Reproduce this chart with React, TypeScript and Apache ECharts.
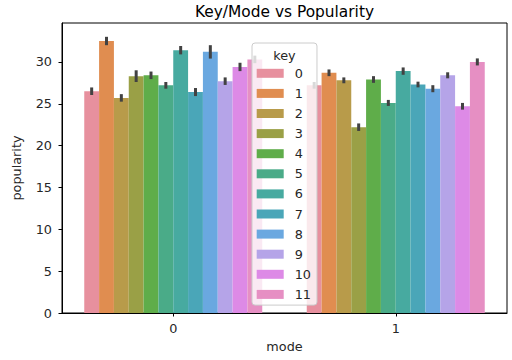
import React, { useEffect, useRef } from "react";
import * as echarts from "echarts";

const modes = ["0", "1"];
const keys = ["0", "1", "2", "3", "4", "5", "6", "7", "8", "9", "10", "11"];
const mode0Pop = [26.5, 32.5, 25.7, 28.3, 28.4, 27.2, 31.4, 26.4, 31.2, 27.7, 29.4, 30.3];
const mode1Pop = [27.2, 28.7, 27.8, 22.2, 27.9, 25.1, 28.9, 27.3, 26.8, 28.4, 24.7, 30.0];
const mode0Err = [0.45, 0.5, 0.45, 0.7, 0.45, 0.4, 0.5, 0.48, 0.8, 0.45, 0.5, 0.45];
const mode1Err = [0.4, 0.4, 0.35, 0.45, 0.4, 0.36, 0.44, 0.34, 0.42, 0.36, 0.4, 0.42];
const keyColors = [
  "#e7909e", "#e08d50", "#b89b4a", "#9aa046", "#5fad4a", "#4aab88",
  "#47aaa0", "#4aa6b8", "#6aa8e0", "#b5a4e8", "#dd8ae6", "#e68fc3",
];
const yTicks = [0, 5, 10, 15, 20, 25, 30];

const FONT = "DejaVu Sans";
const TXT = "#262626";

export default function App() {
  const ref = useRef<HTMLDivElement>(null);
  useEffect(() => {
    if (!ref.current) return;
    const chart = echarts.init(ref.current, null, { renderer: "svg" });
    const barSeries = keys.map((k, i) => ({
      name: k,
      type: "bar",
      data: [mode0Pop[i], mode1Pop[i]],
      itemStyle: { color: keyColors[i] },
      barGap: "0%",
      barCategoryGap: "20%",
    }));
    const errData: number[][] = [];
    keys.forEach((_, i) => {
      errData.push([0, i, mode0Pop[i] - mode0Err[i], mode0Pop[i] + mode0Err[i]]);
      errData.push([1, i, mode1Pop[i] - mode1Err[i], mode1Pop[i] + mode1Err[i]]);
    });
    const errSeries = {
      name: "err",
      type: "custom",
      data: errData,
      encode: { x: 0, y: [2, 3] },
      z: 3,
      renderItem: (params: any, api: any) => {
        const m = api.value(0);
        const k = api.value(1);
        const lo = api.coord([m, api.value(2)]);
        const hi = api.coord([m, api.value(3)]);
        const bw = (api.size([1, 0])[0] * 0.8) / keys.length;
        const x = lo[0] + (k - (keys.length - 1) / 2) * bw;
        return {
          type: "line",
          shape: { x1: x, y1: lo[1], x2: x, y2: hi[1] },
          style: { stroke: "#424242", lineWidth: 3 },
        };
      },
    };
    chart.setOption({
      animation: false,
      grid: {
        left: 62, right: 5, top: 23, bottom: 47,
        show: true, borderColor: "#000", borderWidth: 1, backgroundColor: "transparent",
      },
      graphic: [
        {
          type: "text", x: 284.5, y: 12, z: 100,
          style: { text: "Key/Mode vs Popularity", align: "center", verticalAlign: "middle",
            fontSize: 15.4, fontFamily: FONT, fill: "#000" },
        },
        {
          type: "text", x: 284.5, y: 55, z: 100,
          style: { text: "key", align: "center", verticalAlign: "middle",
            fontSize: 12.8, fontFamily: FONT, fill: TXT },
        },
      ],
      xAxis: {
        type: "category",
        data: modes,
        name: "mode",
        nameLocation: "middle",
        nameGap: 27,
        nameTextStyle: { fontSize: 12.8, fontFamily: FONT, color: TXT },
        axisLine: { show: true, lineStyle: { color: "#000", width: 1 } },
        axisTick: { show: true, alignWithLabel: true, length: 3.5, lineStyle: { color: "#000" } },
        axisLabel: { fontSize: 12.8, fontFamily: FONT, color: TXT, margin: 9 },
        splitLine: { show: false },
      },
      yAxis: {
        type: "value",
        min: 0,
        max: 34.65,
        interval: 5,
        name: "popularity",
        nameLocation: "middle",
        nameGap: 39,
        nameTextStyle: { fontSize: 12.8, fontFamily: FONT, color: TXT },
        axisLine: { show: true, lineStyle: { color: "#000", width: 1 } },
        axisTick: { show: true, length: 3.5, lineStyle: { color: "#000" }, customValues: yTicks },
        axisLabel: { fontSize: 12.8, fontFamily: FONT, color: TXT, margin: 10, customValues: yTicks },
        splitLine: { show: false },
      },
      legend: {
        orient: "vertical",
        left: 252,
        top: 43,
        data: keys,
        icon: "rect",
        itemWidth: 27,
        itemHeight: 9,
        itemGap: 6.1,
        padding: [23.3, 6, 3.7, 4.7],
        backgroundColor: "rgba(255,255,255,0.8)",
        borderColor: "#cccccc",
        borderWidth: 1,
        borderRadius: 3,
        selectedMode: false,
        textStyle: { fontSize: 12.8, lineHeight: 14, fontFamily: FONT, color: TXT, padding: [0, 0, 0, 6] },
      },
      series: [...barSeries, errSeries],
    });
    return () => chart.dispose();
  }, []);
  return (
    <div
      ref={ref}
      style={{ position: "fixed", left: 0, top: 0, width: 512, height: 360, background: "#fff" }}
    />
  );
}
